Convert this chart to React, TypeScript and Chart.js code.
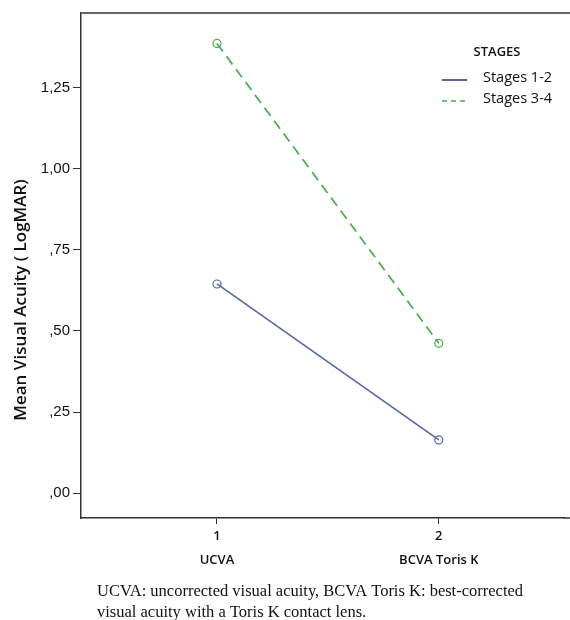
import React, { useEffect, useRef } from "react";
import { Chart, registerables } from "chart.js";

Chart.register(...registerables);

const categories = ["UCVA", "BCVA Toris K"];
const xPositions = [1, 2];
const stages12 = [0.645, 0.164];
const stages34 = [1.387, 0.462];
const seriesLabels = ["Stages 1-2", "Stages 3-4"];
const seriesColors = ["#5562a6", "#45ad4f"];
const yTicks = [0, 0.25, 0.5, 0.75, 1.0, 1.25];
const legendTitle = "STAGES";
const yTitle = "Mean Visual Acuity ( LogMAR)";
const captionLines = [
  "UCVA: uncorrected visual acuity, BCVA Toris K: best-corrected",
  "visual acuity with a Toris K contact lens.",
];

const fmt = (v: number) => {
  const s = v.toFixed(2).replace(".", ",");
  return s.startsWith("0") ? s.slice(1) : s;
};

const SANS = "'Open Sans', 'DejaVu Sans', sans-serif";

const decorPlugin = {
  id: "decor",
  afterDraw(chart: any) {
    const ctx = chart.ctx;
    const a = chart.chartArea;
    ctx.save();
    // top frame line
    ctx.strokeStyle = "#666";
    ctx.lineWidth = 2;
    ctx.beginPath();
    ctx.moveTo(a.left, a.top);
    ctx.lineTo(570, a.top);
    ctx.stroke();
    // extend x axis line to the edge
    ctx.strokeStyle = "#333";
    ctx.lineWidth = 1.5;
    ctx.beginPath();
    ctx.moveTo(a.right - 1, a.bottom);
    ctx.lineTo(570, a.bottom);
    ctx.stroke();

    // y title
    ctx.save();
    ctx.translate(21, 300);
    ctx.rotate(-Math.PI / 2);
    ctx.font = `600 17px ${SANS}`;
    ctx.fillStyle = "#111";
    ctx.textAlign = "center";
    ctx.textBaseline = "middle";
    ctx.fillText(yTitle, 0, 0);
    ctx.restore();

    // legend
    ctx.fillStyle = "#111";
    ctx.textBaseline = "middle";
    ctx.font = `600 13px ${SANS}`;
    ctx.textAlign = "center";
    ctx.fillText(legendTitle, 497, 52);
    ctx.textAlign = "left";
    ctx.font = `500 14.5px ${SANS}`;
    const ys = [78, 99];
    seriesLabels.forEach((lab, i) => {
      ctx.strokeStyle = seriesColors[i];
      ctx.lineWidth = i === 0 ? 2 : 1.5;
      ctx.setLineDash(i === 0 ? [] : [5, 4]);
      ctx.beginPath();
      ctx.moveTo(442, ys[i] + 2);
      ctx.lineTo(467, ys[i] + 2);
      ctx.stroke();
      ctx.setLineDash([]);
      ctx.fillText(lab, 483, ys[i]);
    });

    // caption
    ctx.font = "16.5px 'Liberation Serif', 'Times New Roman', serif";
    ctx.fillStyle = "#111";
    ctx.textAlign = "left";
    ctx.textBaseline = "alphabetic";
    ctx.fillText(captionLines[0], 97, 596);
    ctx.fillText(captionLines[1], 97, 617);
    ctx.restore();
  },
};

export default function App() {
  const ref = useRef<HTMLCanvasElement | null>(null);
  useEffect(() => {
    if (!ref.current) return;
    const mk = (vals: number[]) => xPositions.map((x, i) => ({ x, y: vals[i] }));
    const chart = new Chart(ref.current, {
      type: "line",
      data: {
        datasets: [
          {
            label: seriesLabels[0],
            data: mk(stages12),
            borderColor: seriesColors[0],
            borderWidth: 1.5,
            pointStyle: "circle",
            pointRadius: 4,
            pointBorderWidth: 1.2,
            pointBackgroundColor: "rgba(255,255,255,0)",
            pointBorderColor: seriesColors[0],
          },
          {
            label: seriesLabels[1],
            data: mk(stages34),
            borderColor: seriesColors[1],
            borderWidth: 1.7,
            borderDash: [10, 6],
            pointStyle: "circle",
            pointRadius: 4,
            pointBorderWidth: 1.2,
            pointBackgroundColor: "rgba(255,255,255,0)",
            pointBorderColor: seriesColors[1],
          },
        ],
      },
      options: {
        responsive: false,
        animation: false,
        layout: { padding: { left: 0, top: 13, right: 0, bottom: 0 } },
        plugins: { legend: { display: false }, tooltip: { enabled: false } },
        scales: {
          x: {
            type: "linear",
            min: 0.387,
            max: 2.568,
            afterBuildTicks: (s: any) => {
              s.ticks = xPositions.map((v) => ({ value: v }));
            },
            afterFit: (s: any) => {
              s.height = 102;
              s.paddingRight = 0;
              s.paddingLeft = 0;
            },
            ticks: {
              autoSkip: false,
              maxRotation: 0,
              padding: 0,
              color: "#111",
              font: { family: SANS, size: 13, weight: "600", lineHeight: 24 / 13 },
              callback: (v: any) => {
                const i = xPositions.indexOf(Number(v));
                return i >= 0 ? [String(v), categories[i]] : "";
              },
            },
            grid: { drawOnChartArea: false, drawTicks: true, tickLength: 6, color: "#333" },
            border: { color: "#333", width: 1.5 },
          },
          y: {
            type: "linear",
            min: -0.077,
            max: 1.481,
            afterBuildTicks: (s: any) => {
              s.ticks = yTicks.map((v) => ({ value: v }));
            },
            afterFit: (s: any) => {
              s.width = 81;
            },
            ticks: {
              padding: 3,
              color: "#111",
              font: { family: "'Liberation Sans', Arial, sans-serif", size: 15 },
              callback: (v: any) => fmt(Number(v)),
            },
            grid: { drawOnChartArea: false, drawTicks: true, tickLength: 8, color: "#333" },
            border: { color: "#333", width: 1.5 },
          },
        },
      },
      plugins: [decorPlugin],
    } as any);
    return () => chart.destroy();
  }, []);
  return (
    <div style={{ position: "absolute", left: 0, top: 0, width: 570, height: 620, background: "#fff" }}>
      <canvas ref={ref} width={570} height={620} style={{ display: "block" }} />
    </div>
  );
}
